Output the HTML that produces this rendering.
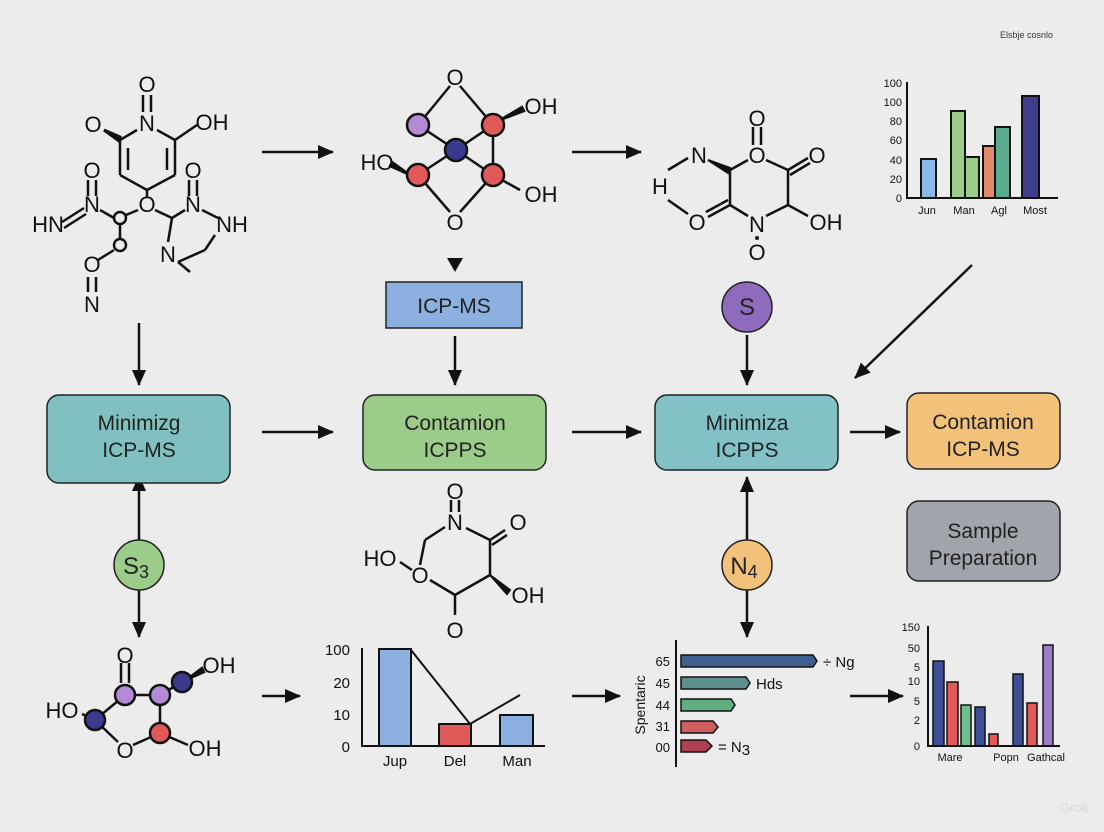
<!DOCTYPE html>
<html><head><meta charset="utf-8"><style>
html,body{margin:0;padding:0;background:#ececec;}
svg{display:block;font-family:"Liberation Sans",sans-serif;}
</style></head><body>
<svg width="1104" height="832" viewBox="0 0 1104 832" xmlns="http://www.w3.org/2000/svg">
<defs>
<marker id="a" markerWidth="10" markerHeight="10" refX="8" refY="5" orient="auto" markerUnits="userSpaceOnUse"><path d="M0,0 L10,5 L0,10 z" fill="#111"/></marker>
<marker id="b" markerWidth="16" markerHeight="14" refX="15" refY="7" orient="auto" markerUnits="userSpaceOnUse"><path d="M0,0 L16,7 L0,14 z" fill="#111"/></marker>
</defs>
<rect width="1104" height="832" fill="#ececec"/>
<text x="1000" y="38" font-size="9" fill="#333">Elsbje cosnlo</text>

<g stroke="#111" stroke-width="2.5" fill="none" marker-end="url(#b)">
<line x1="262" y1="152" x2="333" y2="152"/>
<line x1="572" y1="152" x2="641" y2="152"/>
<line x1="262" y1="432" x2="333" y2="432"/>
<line x1="572" y1="432" x2="641" y2="432"/>
<line x1="850" y1="432" x2="900" y2="432"/>
<line x1="262" y1="696" x2="300" y2="696"/>
<line x1="572" y1="696" x2="620" y2="696"/>
<line x1="850" y1="696" x2="903" y2="696"/>
<line x1="139" y1="323" x2="139" y2="385"/>
<line x1="455" y1="336" x2="455" y2="385"/>
<line x1="747" y1="335" x2="747" y2="385"/>
<line x1="972" y1="265" x2="855" y2="378"/>
<line x1="139" y1="540" x2="139" y2="476"/>
<line x1="139" y1="590" x2="139" y2="637"/>
<line x1="747" y1="540" x2="747" y2="477"/>
<line x1="747" y1="590" x2="747" y2="637"/>
</g>
<path d="M447,258 L463,258 L455,272 z" fill="#111"/>

<g stroke="#222" stroke-width="1.5">
<rect x="47" y="395" width="183" height="88" rx="12" fill="#80c0c0"/>
<rect x="363" y="395" width="183" height="75" rx="12" fill="#9ccc8a"/>
<rect x="655" y="395" width="183" height="75" rx="12" fill="#82c2c6"/>
<rect x="907" y="393" width="153" height="76" rx="12" fill="#f2c27a"/>
<rect x="907" y="501" width="153" height="80" rx="12" fill="#a0a4ab"/>
<rect x="386" y="282" width="136" height="46" fill="#8cb0e0"/>
<circle cx="747" cy="307" r="25" fill="#8e6bbd"/>
<circle cx="139" cy="565" r="25" fill="#9ccc8a"/>
<circle cx="747" cy="565" r="25" fill="#f2c27a"/>
</g>
<g font-size="21" fill="#222" text-anchor="middle">
<text x="139" y="430">Minimizg</text><text x="139" y="457">ICP-MS</text>
<text x="455" y="430">Contamion</text><text x="455" y="457">ICPPS</text>
<text x="747" y="430">Minimiza</text><text x="747" y="457">ICPPS</text>
<text x="983" y="429">Contamion</text><text x="983" y="456">ICP-MS</text>
<text x="983" y="538">Sample</text><text x="983" y="565">Preparation</text>
<text x="454" y="313">ICP-MS</text>
<text x="747" y="315" font-size="24">S</text>
<text x="136" y="574" font-size="24">S<tspan font-size="18" dy="4">3</tspan></text>
<text x="744" y="574" font-size="24">N<tspan font-size="18" dy="4">4</tspan></text>
</g>

<!-- top-left molecule -->
<g stroke="#111" stroke-width="2.5" fill="none">
<line x1="143" y1="95" x2="143" y2="112"/><line x1="151" y1="95" x2="151" y2="112"/>
<line x1="137" y1="130" x2="120" y2="140"/><line x1="157" y1="130" x2="175" y2="140"/>
<line x1="120" y1="140" x2="120" y2="175"/><line x1="175" y1="140" x2="175" y2="175"/>
<line x1="128" y1="148" x2="128" y2="170"/><line x1="167" y1="148" x2="167" y2="170"/>
<line x1="120" y1="175" x2="147" y2="190"/><line x1="175" y1="175" x2="147" y2="190"/>
<line x1="175" y1="140" x2="197" y2="125"/>
<line x1="147" y1="190" x2="147" y2="197"/>
<line x1="138" y1="210" x2="126" y2="215"/><line x1="155" y1="210" x2="172" y2="218"/>
<line x1="100" y1="210" x2="114" y2="218"/>
<line x1="88" y1="180" x2="88" y2="196"/><line x1="96" y1="180" x2="96" y2="196"/>
<line x1="62" y1="222" x2="84" y2="208"/><line x1="64" y1="228" x2="86" y2="214"/>
<line x1="120" y1="224" x2="120" y2="240"/>
<line x1="114" y1="250" x2="98" y2="260"/>
<line x1="88" y1="277" x2="88" y2="292"/><line x1="96" y1="277" x2="96" y2="292"/>
<line x1="172" y1="218" x2="185" y2="210"/>
<line x1="189" y1="180" x2="189" y2="196"/><line x1="197" y1="180" x2="197" y2="196"/>
<line x1="202" y1="210" x2="218" y2="218"/>
<line x1="172" y1="218" x2="168" y2="242"/>
<line x1="178" y1="262" x2="205" y2="250"/><line x1="205" y1="250" x2="215" y2="235"/>
<line x1="178" y1="262" x2="190" y2="272"/>
</g>
<circle cx="120" cy="218" r="6" fill="none" stroke="#111" stroke-width="2.5"/>
<circle cx="120" cy="245" r="6" fill="none" stroke="#111" stroke-width="2.5"/>
<path d="M104,130 L120,137 L119,141 z" fill="#111" stroke="#111" stroke-width="3"/>
<g font-size="22" fill="#111" text-anchor="middle">
<text x="147" y="92">O</text><text x="147" y="131">N</text><text x="93" y="132">O</text><text x="212" y="130">OH</text>
<text x="147" y="212">O</text><text x="92" y="212">N</text><text x="92" y="178">O</text><text x="48" y="232">HN</text>
<text x="92" y="272">O</text><text x="92" y="312">N</text>
<text x="193" y="212">N</text><text x="193" y="178">O</text><text x="232" y="232">NH</text><text x="168" y="262">N</text>
</g>

<!-- top-middle molecule -->
<g stroke="#111" stroke-width="2.5">
<line x1="450" y1="86" x2="418" y2="125"/><line x1="460" y1="86" x2="493" y2="125"/>
<line x1="418" y1="125" x2="456" y2="150"/><line x1="493" y1="125" x2="456" y2="150"/>
<line x1="418" y1="175" x2="456" y2="150"/><line x1="493" y1="175" x2="456" y2="150"/>
<line x1="493" y1="125" x2="493" y2="175"/>
<line x1="418" y1="175" x2="450" y2="212"/><line x1="493" y1="175" x2="460" y2="212"/>
<line x1="493" y1="175" x2="520" y2="190"/>
<path d="M500,120 L522,107 L524,111 z" fill="#111"/>
<path d="M410,175 L392,162 L390,166 z" fill="#111"/>
<circle cx="418" cy="125" r="11" fill="#b58ad4"/><circle cx="493" cy="125" r="11" fill="#e05a5a"/>
<circle cx="456" cy="150" r="11" fill="#3a3a8e"/>
<circle cx="418" cy="175" r="11" fill="#e05a5a"/><circle cx="493" cy="175" r="11" fill="#e05a5a"/>
</g>
<g font-size="22" fill="#111" text-anchor="middle">
<text x="455" y="85">O</text><text x="455" y="230">O</text><text x="541" y="114">OH</text><text x="377" y="170">HO</text><text x="541" y="202">OH</text>
</g>

<!-- top-right molecule -->
<g stroke="#111" stroke-width="2.5" fill="none">
<line x1="668" y1="170" x2="688" y2="158"/><line x1="668" y1="200" x2="688" y2="214"/>
<line x1="730" y1="170" x2="748" y2="160"/><line x1="766" y1="160" x2="788" y2="170"/>
<line x1="753" y1="127" x2="753" y2="145"/><line x1="761" y1="127" x2="761" y2="145"/>
<line x1="788" y1="170" x2="808" y2="158"/><line x1="790" y1="175" x2="810" y2="163"/>
<line x1="730" y1="170" x2="730" y2="205"/><line x1="788" y1="170" x2="788" y2="205"/>
<line x1="730" y1="205" x2="748" y2="216"/><line x1="788" y1="205" x2="766" y2="216"/>
<line x1="788" y1="205" x2="808" y2="216"/>
<line x1="730" y1="205" x2="708" y2="217"/><line x1="728" y1="200" x2="706" y2="212"/>
</g>
<path d="M708,160 L730,168 L728,173 z" fill="#111" stroke="#111" stroke-width="2"/>
<circle cx="757" cy="238" r="2" fill="#111"/>
<g font-size="22" fill="#111" text-anchor="middle">
<text x="699" y="163">N</text><text x="660" y="194">H</text><text x="757" y="126">O</text><text x="757" y="163">O</text>
<text x="817" y="163">O</text><text x="697" y="230">O</text><text x="757" y="232">N</text><text x="757" y="260">O</text><text x="826" y="230">OH</text>
</g>

<!-- top-right chart -->
<g stroke="#111" stroke-width="2">
<rect x="921" y="159" width="15" height="39" fill="#8ab8e8"/>
<rect x="951" y="111" width="14" height="87" fill="#9ccc8a"/>
<rect x="965" y="157" width="14" height="41" fill="#9ccc8a"/>
<rect x="983" y="146" width="12" height="52" fill="#e08a6a"/>
<rect x="995" y="127" width="15" height="71" fill="#5aab8e"/>
<rect x="1022" y="96" width="17" height="102" fill="#3e3e8c"/>
<line x1="907" y1="82" x2="907" y2="199"/><line x1="906" y1="198" x2="1058" y2="198"/>
</g>
<g font-size="11" fill="#111" text-anchor="end">
<text x="902" y="87">100</text><text x="902" y="106">100</text><text x="902" y="125">80</text><text x="902" y="144">60</text><text x="902" y="164">40</text><text x="902" y="183">20</text><text x="902" y="202">0</text>
</g>
<g font-size="11" fill="#111" text-anchor="middle">
<text x="927" y="214">Jun</text><text x="964" y="214">Man</text><text x="999" y="214">Agl</text><text x="1035" y="214">Most</text>
</g>

<!-- bottom-middle molecule -->
<g stroke="#111" stroke-width="2.5" fill="none">
<line x1="451" y1="500" x2="451" y2="512"/><line x1="459" y1="500" x2="459" y2="512"/>
<line x1="466" y1="528" x2="490" y2="540"/><line x1="490" y1="540" x2="505" y2="530"/><line x1="492" y1="545" x2="507" y2="535"/>
<line x1="490" y1="540" x2="490" y2="575"/><line x1="490" y1="575" x2="455" y2="595"/>
<line x1="455" y1="595" x2="430" y2="580"/><line x1="412" y1="570" x2="400" y2="562"/>
<line x1="420" y1="565" x2="425" y2="540"/><line x1="425" y1="540" x2="445" y2="527"/>
<line x1="455" y1="595" x2="455" y2="615"/>
</g>
<path d="M490,575 L510,590 L507,594 z" fill="#111" stroke="#111" stroke-width="2"/>
<g font-size="22" fill="#111" text-anchor="middle">
<text x="455" y="499">O</text><text x="455" y="530">N</text><text x="518" y="530">O</text><text x="380" y="566">HO</text>
<text x="420" y="583">O</text><text x="528" y="603">OH</text><text x="455" y="638">O</text>
</g>

<!-- bottom-left molecule -->
<g stroke="#111" stroke-width="2.5">
<line x1="121" y1="663" x2="121" y2="683"/><line x1="129" y1="663" x2="129" y2="683"/>
<line x1="125" y1="695" x2="160" y2="695"/><line x1="160" y1="695" x2="182" y2="682"/>
<line x1="125" y1="695" x2="95" y2="720"/><line x1="160" y1="695" x2="160" y2="733"/>
<line x1="95" y1="720" x2="118" y2="742"/><line x1="160" y1="733" x2="133" y2="745"/>
<line x1="160" y1="733" x2="188" y2="745"/>
<line x1="82" y1="714" x2="95" y2="720"/>
<path d="M186,680 L202,668 L204,672 z" fill="#111"/>
<circle cx="125" cy="695" r="10" fill="#b58ad4"/><circle cx="182" cy="682" r="10" fill="#3a3a8e"/>
<circle cx="95" cy="720" r="10" fill="#3a3a8e"/><circle cx="160" cy="695" r="10" fill="#b58ad4"/>
<circle cx="160" cy="733" r="10" fill="#e05a5a"/>
</g>
<g font-size="22" fill="#111" text-anchor="middle">
<text x="125" y="663">O</text><text x="219" y="673">OH</text><text x="62" y="718">HO</text><text x="205" y="756">OH</text><text x="125" y="758">O</text>
</g>

<!-- bottom-middle chart -->
<g stroke="#111" stroke-width="2">
<rect x="379" y="649" width="32" height="97" fill="#8cb0e0"/>
<rect x="439" y="724" width="32" height="22" fill="#e05a5a"/>
<rect x="500" y="715" width="33" height="31" fill="#8cb0e0"/>
<polyline points="411,650 470,724 520,695" fill="none"/>
<line x1="362" y1="648" x2="362" y2="747"/><line x1="361" y1="746" x2="545" y2="746"/>
</g>
<g font-size="15" fill="#111" text-anchor="end">
<text x="350" y="655">100</text><text x="350" y="688">20</text><text x="350" y="720">10</text><text x="350" y="752">0</text>
</g>
<g font-size="15" fill="#111" text-anchor="middle">
<text x="395" y="766">Jup</text><text x="455" y="766">Del</text><text x="517" y="766">Man</text>
</g>

<!-- horizontal bar chart -->
<g stroke="#111" stroke-width="1.5">
<line x1="676" y1="640" x2="676" y2="767" stroke-width="2"/>
<path d="M681,655 H813 L817,661 L813,667 H681 z" fill="#3f5f8f"/>
<path d="M681,677 H746 L750,683 L746,689 H681 z" fill="#5f9090"/>
<path d="M681,699 H731 L735,705 L731,711 H681 z" fill="#5fae80"/>
<path d="M681,721 H713 L718,727 L713,733 H681 z" fill="#d06060"/>
<path d="M681,740 H706 L712,746 L706,752 H681 z" fill="#b04050"/>
</g>
<g font-size="13" fill="#111" text-anchor="end">
<text x="670" y="666">65</text><text x="670" y="688">45</text><text x="670" y="710">44</text><text x="670" y="731">31</text><text x="670" y="752">00</text>
</g>
<g font-size="15" fill="#111">
<text x="823" y="667">÷ Ng</text><text x="756" y="689">Hds</text><text x="718" y="752">= N<tspan dy="3">3</tspan></text>
</g>
<text transform="translate(645,705) rotate(-90)" font-size="14" fill="#111" text-anchor="middle">Spentaric</text>

<!-- bottom-right chart -->
<g stroke="#111" stroke-width="1.5">
<rect x="933" y="661" width="11" height="85" fill="#3e4f95"/>
<rect x="947" y="682" width="11" height="64" fill="#e05a5a"/>
<rect x="961" y="705" width="10" height="41" fill="#6cbf8a"/>
<rect x="975" y="707" width="10" height="39" fill="#3e4f95"/>
<rect x="989" y="734" width="9" height="12" fill="#e05a5a"/>
<rect x="1013" y="674" width="10" height="72" fill="#3e4f95"/>
<rect x="1027" y="703" width="10" height="43" fill="#e05a5a"/>
<rect x="1043" y="645" width="10" height="101" fill="#9a7cc4"/>
<line x1="928" y1="626" x2="928" y2="747" stroke-width="2"/><line x1="927" y1="746" x2="1060" y2="746" stroke-width="2"/>
</g>
<g font-size="11" fill="#111" text-anchor="end">
<text x="920" y="631">150</text><text x="920" y="652">50</text><text x="920" y="671">5</text><text x="920" y="685">10</text><text x="920" y="705">5</text><text x="920" y="724">2</text><text x="920" y="750">0</text>
</g>
<g font-size="11" fill="#111" text-anchor="middle">
<text x="950" y="761">Mare</text><text x="1006" y="761">Popn</text><text x="1046" y="761">Gathcal</text>
</g>
<text x="1060" y="812" font-size="13" fill="#d8d8d8">Grok</text>
</svg>
</body></html>
